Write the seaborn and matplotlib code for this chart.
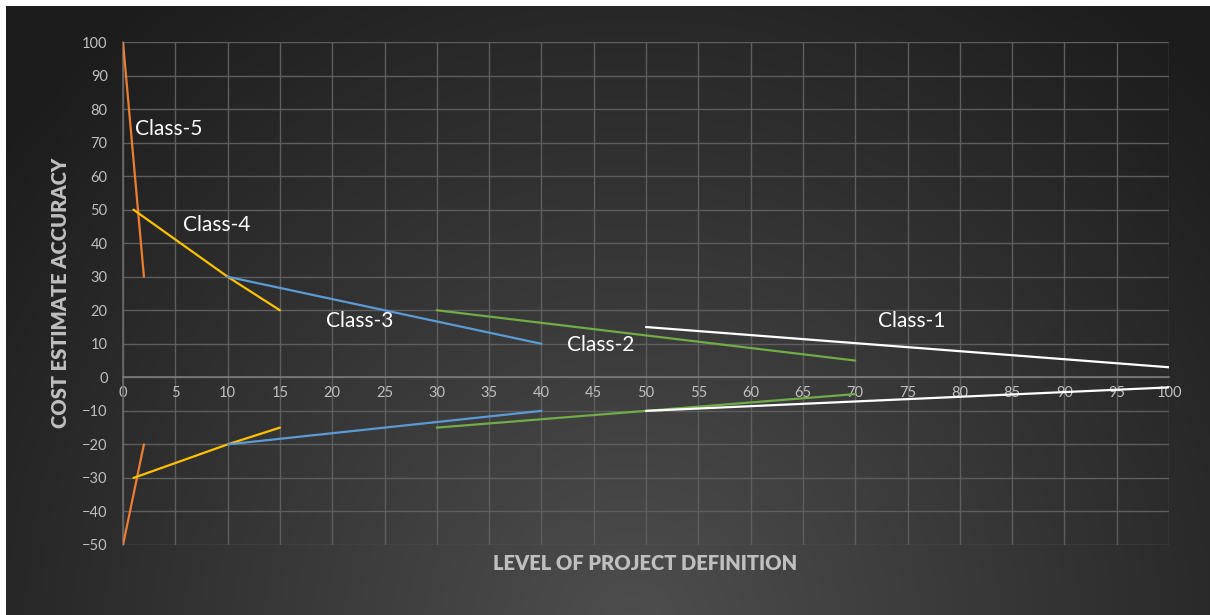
import numpy as np
import pandas as pd
import matplotlib
matplotlib.use("Agg")
import matplotlib.pyplot as plt
import seaborn as sns

# ---- data ----
classes = ["Class-5", "Class-4", "Class-3", "Class-2", "Class-1"]
colors = ["#ED7D31", "#FFC000", "#5B9BD5", "#70AD47", "#FFFFFF"]

c5_x = [0, 2]
c5_upper = [100, 30]
c5_lower = [-50, -20]

c4_x = [1, 10, 15]
c4_upper = [50, 30, 20]
c4_lower = [-30, -20, -15]

c3_x = [10, 40]
c3_upper = [30, 10]
c3_lower = [-20, -10]

c2_x = [30, 70]
c2_upper = [20, 5]
c2_lower = [-15, -5]

c1_x = [50, 100]
c1_upper = [15, 3]
c1_lower = [-10, -3]

label_x = [1.1, 5.7, 19.4, 42.4, 72.2]
label_y = [74, 45.5, 16.8, 9.6, 16.8]

x_ticks = list(range(0, 101, 5))
y_ticks = list(range(-50, 101, 10))

series = {
    "Class-5": (c5_x, c5_upper, c5_lower),
    "Class-4": (c4_x, c4_upper, c4_lower),
    "Class-3": (c3_x, c3_upper, c3_lower),
    "Class-2": (c2_x, c2_upper, c2_lower),
    "Class-1": (c1_x, c1_upper, c1_lower),
}
rows = []
for cls, (xs, up, lo) in series.items():
    for x, y in zip(xs, up):
        rows.append(dict(cls=cls, seg=cls + "-u", x=x, y=y))
    for x, y in zip(xs, lo):
        rows.append(dict(cls=cls, seg=cls + "-l", x=x, y=y))
df = pd.DataFrame(rows)

# ---- figure ----
sns.set_theme(style="dark")
plt.rcParams["font.family"] = ["Lato", "DejaVu Sans"]

W, H = 1210, 615
fig = plt.figure(figsize=(W / 100, H / 100), dpi=100, facecolor="white")

# background radial gradient
bg = fig.add_axes([6 / W, 0, (W - 6) / W, (H - 6) / H])
bw, bh = W - 6, H - 6
yy, xx = np.mgrid[0:bh, 0:bw]
cx, cy = bw * 0.52, bh * 1.02
r = np.sqrt((xx - cx) ** 2 + (yy - cy) ** 2) / 800.0
r = np.clip(r, 0, 1)
c_in, c_out = 0x4E / 255, 0x1C / 255
val = c_in + (c_out - c_in) * r
img = np.dstack([val, val, val])
bg.imshow(img, aspect="auto", extent=[0, 1, 0, 1], origin="upper")
bg.set_axis_off()

ax = fig.add_axes([123 / W, (H - 545) / H, (1169 - 123) / W, (545 - 42) / H])
ax.set_facecolor("none")
ax.patch.set_alpha(0)

palette = dict(zip(classes, colors))
sns.lineplot(data=df, x="x", y="y", hue="cls", units="seg", estimator=None,
             palette=palette, linewidth=1.6, legend=False, ax=ax, sort=False,
             zorder=3)

ax.set_xlim(0, 100)
ax.set_ylim(-50, 100)
ax.set_xticks(x_ticks)
ax.set_yticks(y_ticks)
ax.grid(True, color="#5E5E5E", linewidth=1.0, zorder=0)
for s in ["top", "right"]:
    ax.spines[s].set_visible(False)
ax.spines["bottom"].set_position(("data", 0))
ax.spines["bottom"].set_color("#7A7A7A")
ax.spines["bottom"].set_linewidth(1.2)
ax.spines["left"].set_color("#6A6A6A")
ax.spines["left"].set_linewidth(1.2)
ax.tick_params(axis="both", length=0, labelcolor="#BFBFBF", labelsize=10.5)
ax.tick_params(axis="x", pad=6)
ax.tick_params(axis="y", pad=11)
ax.set_xlabel("")
ax.set_ylabel("")

for name, lx, ly in zip(classes, label_x, label_y):
    ax.text(lx, ly, name, color="white", fontsize=15, ha="left", va="center",
            zorder=4)

fig.text(645 / W, 1 - 563 / H, "LEVEL OF PROJECT DEFINITION", color="#BFBFBF",
         fontsize=14.5, fontweight="heavy", ha="center", va="center")
fig.text(61 / W, 1 - 293 / H, "COST ESTIMATE ACCURACY", color="#BFBFBF",
         fontsize=14.5, fontweight="heavy", ha="center", va="center", rotation=90)

fig.savefig("out.png", dpi=100, facecolor="white")
